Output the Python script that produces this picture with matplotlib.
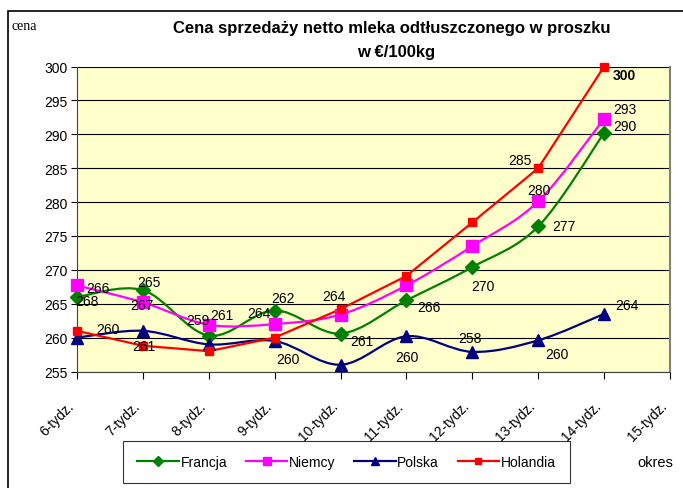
import matplotlib
matplotlib.use('Agg')
import matplotlib.pyplot as plt
import matplotlib.patches as mpatches
import matplotlib.transforms as mtransforms
from matplotlib.path import Path
import numpy as np

plt.rcParams['font.family'] = ['Liberation Sans', 'DejaVu Sans']

# data
weeks = ['6-tydz.', '7-tydz.', '8-tydz.', '9-tydz.', '10-tydz.', '11-tydz.',
         '12-tydz.', '13-tydz.', '14-tydz.', '15-tydz.']
francja = [266.0, 267.0, 260.3, 264.0, 260.6, 265.5, 270.4, 276.4, 290.2]
niemcy = [267.7, 265.2, 261.9, 262.0, 263.4, 267.7, 273.5, 280.1, 292.3]
polska = [260.0, 261.0, 259.0, 259.5, 256.0, 260.2, 257.9, 259.6, 263.5]
holandia = [261.0, 258.8, 258.0, 260.0, 264.2, 269.1, 277.0, 285.0, 300.0]

# data labels as shown on the chart
francja_lbl = ['266', '265', '259', '262', '261', '266', '270', '277', '290']
niemcy_lbl = ['268', '267', '261', '264', None, None, None, '280', '293']
polska_lbl = ['260', None, None, '260', None, '260', '258', '260', '264']
holandia_lbl = [None, '261', None, None, '264', None, None, '285', '300']

# label offsets in pixels (dx, dy)
francja_off = [(21, 9), (6, 8), (-11, 16), (8, 12), (21, -7), (22, -7), (11, -19), (26, 0), (21, 7)]
niemcy_off = [(10, -16), (-1, -3), (13, 10), (-16, 11), None, None, None, (1, 11), (21, 10)]
polska_off = [(31, 9), None, None, (13, -18), None, (0, -21), (-2, 14), (19, -14), (23, 9)]
holandia_off = [None, (1, 0), None, None, (-7, 13), None, None, (-18, 8), (20, -9)]


def smooth_path(xs, ys):
    pts = np.column_stack([xs, ys])
    n = len(pts)
    verts = [pts[0]]
    codes = [Path.MOVETO]
    for i in range(n - 1):
        p0 = pts[i - 1] if i > 0 else pts[i]
        p1 = pts[i]
        p2 = pts[i + 1]
        p3 = pts[i + 2] if i + 2 < n else pts[i + 1]
        verts += [p1 + (p2 - p0) / 6.0, p2 - (p3 - p1) / 6.0, p2]
        codes += [Path.CURVE4] * 3
    return Path(verts, codes)


fig = plt.figure(figsize=(6.83, 4.89), dpi=100)
fig.patch.set_facecolor('white')
ax = fig.add_axes([77 / 683, 1 - 372.5 / 489, 593 / 683, 305 / 489])
ax.set_facecolor('#FFFFCC')

series = [
    ('Francja', francja, '#008000', 'D', 7, True, francja_lbl, francja_off),
    ('Niemcy', niemcy, '#FF00FF', 's', 8, True, niemcy_lbl, niemcy_off),
    ('Polska', polska, '#000080', '^', 8, True, polska_lbl, polska_off),
    ('Holandia', holandia, '#FF0000', 's', 5.5, False, holandia_lbl, holandia_off),
]

x = np.arange(len(francja))
handles = []
for name, vals, col, mk, ms, smooth, lbls, offs in series:
    if smooth:
        ax.add_patch(mpatches.PathPatch(smooth_path(x, vals), facecolor='none',
                                        edgecolor=col, lw=1.6, zorder=3))
    else:
        ax.plot(x, vals, color=col, lw=1.6, zorder=3)
    ax.plot(x, vals, linestyle='none', marker=mk, ms=ms, color=col, zorder=4,
            clip_on=False)
    h, = ax.plot([], [], color=col, lw=1.6, marker=mk, ms=ms * 0.75)
    handles.append(h)
    for xi, v, t, o in zip(x, vals, lbls, offs):
        if t is None:
            continue
        ax.annotate(t, (xi, v), xytext=(o[0], o[1]), textcoords='offset pixels',
                    ha='center', va='center', fontsize=10, zorder=5,
                    fontweight='bold' if t == '300' else 'normal')

ax.set_xlim(0, 9)
ax.set_ylim(255, 300)
ax.set_yticks(np.arange(255, 301, 5))
ax.tick_params(axis='y', labelsize=10, length=4, direction='out', pad=3)
ax.yaxis.grid(True, color='black', lw=0.8)
ax.set_axisbelow(True)
ax.set_xticks(np.arange(len(weeks)))
ax.set_xticklabels(weeks, rotation=45, ha='right', rotation_mode='anchor', fontsize=10)
ax.tick_params(axis='x', length=5, direction='out', pad=14.5)
shift = mtransforms.ScaledTranslation(-10 / 100, 0, fig.dpi_scale_trans)
for lab in ax.get_xticklabels():
    lab.set_transform(lab.get_transform() + shift)

ax.spines['top'].set_visible(False)
ax.spines['right'].set_color('#808080')
ax.spines['right'].set_linewidth(1.5)
ax.spines['left'].set_color('#404040')
ax.spines['bottom'].set_color('#404040')

fig.text(392 / 683, 1 - 28 / 489, 'Cena sprzedaży netto mleka odtłuszczonego w proszku',
         ha='center', va='center', fontsize=12, fontweight='bold')
fig.text(396 / 683, 1 - 52 / 489, 'w €/100kg', ha='center', va='center',
         fontsize=12, fontweight='bold')
fig.text(12 / 683, 1 - 27 / 489, 'cena', ha='left', va='center', fontsize=10,
         family=['Liberation Serif', 'DejaVu Serif'])
fig.text(655 / 683, 1 - 463 / 489, 'okres', ha='center', va='center', fontsize=10.5)

leg = fig.legend(handles, ['Francja', 'Niemcy', 'Polska', 'Holandia'], loc='center',
                 bbox_to_anchor=(346.5 / 683, 1 - 463 / 489), ncol=4, frameon=True,
                 fancybox=False, edgecolor='black', fontsize=10, handlelength=3,
                 handletextpad=0.1, columnspacing=1.35, borderpad=1.0)
leg.get_frame().set_linewidth(0.8)

border = mpatches.Rectangle((8 / 683, -0.05), 1.0, 1 - 12 / 489 + 0.05,
                            transform=fig.transFigure, fill=False,
                            edgecolor='black', lw=1.2)
fig.patches.append(border)

fig.savefig('out.png', dpi=100)
